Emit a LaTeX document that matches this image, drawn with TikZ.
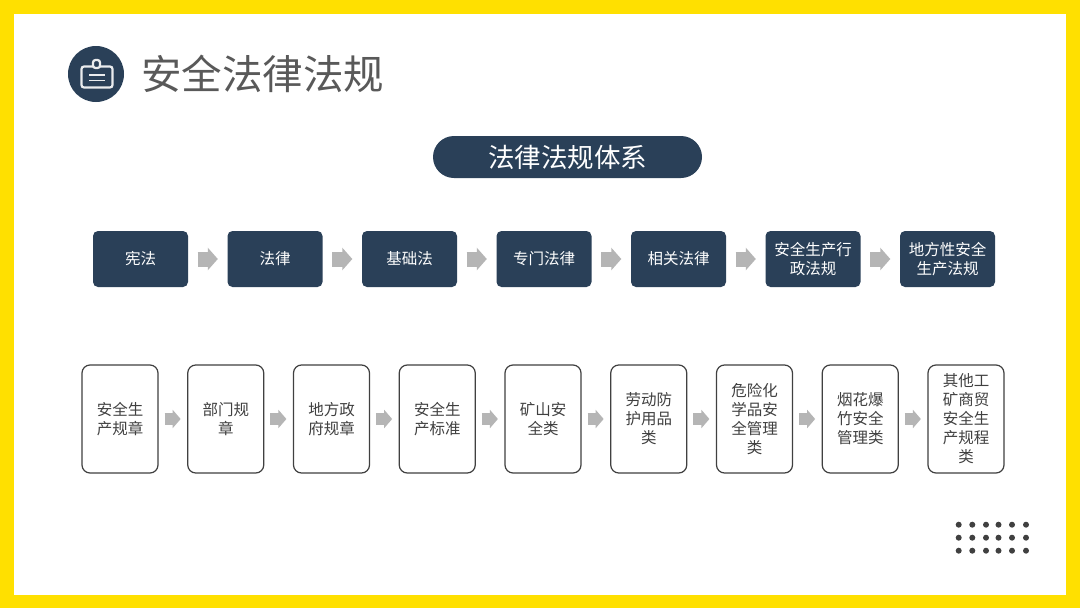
\documentclass[tikz,border=0pt]{standalone}
\usepackage{fontspec}
\setmainfont{Noto Sans CJK SC}
\usetikzlibrary{arrows.meta}
\definecolor{navy}{HTML}{2A4058}
\definecolor{frameyellow}{HTML}{FFE000}
\definecolor{titlegray}{HTML}{595959}
\definecolor{textgray}{HTML}{404040}
\definecolor{arrowgray}{HTML}{B5B5B5}
\tikzset{
  lawbox/.style={draw=none, fill=navy, rounded corners=5pt, minimum width=95pt, minimum height=56pt, inner sep=0pt, align=center, text=white, font=\fontsize{15.5}{19}\selectfont},
  rulebox/.style={draw=textgray, line width=1.2pt, fill=white, rounded corners=8pt, minimum width=76pt, minimum height=108pt, inner sep=0pt, align=center, text=textgray, font=\fontsize{15.5}{19}\selectfont},
  lawarrow/.style={draw=arrowgray, line width=15pt, -{Triangle[length=10pt,width=22pt,fill=arrowgray]}, shorten >=9.5pt, shorten <=9.5pt},
  rulearrow/.style={draw=arrowgray, line width=12.5pt, -{Triangle[length=8pt,width=18pt,fill=arrowgray]}, shorten >=6.5pt, shorten <=6pt},
}
\begin{document}
\begin{tikzpicture}[x=1pt, y=-1pt]
  \useasboundingbox (0,0) rectangle (1080,608);
  \fill[frameyellow] (0,0) rectangle (1080,608);
  \fill[white] (14,14) rectangle (1066,595);

  \node[circle, fill=navy, minimum size=56pt, inner sep=0pt] (badge) at (96,74) {};
  \draw[white!90!navy, line width=2.2pt, rounded corners=2.5pt] (93,66.5) -- (81.5,66.5) -- (81.5,87.5) -- (112.5,87.5) -- (112.5,66.5) -- (100,66.5);
  \draw[white!90!navy, line width=2.2pt, rounded corners=2.5pt] (93,68) -- (93,60) -- (100,60) -- (100,68) -- cycle;
  \draw[white!90!navy, line width=1.8pt] (89,75) -- (105,75);
  \draw[white!90!navy, line width=1.8pt] (89,80.5) -- (105,80.5);
  \node[anchor=west, inner sep=0pt, text=titlegray, font=\fontsize{40.5}{44}\selectfont] (heading) at (141,74) {安全法律法规};

  \node[fill=navy, rounded corners=21pt, minimum width=269pt, minimum height=42pt, inner sep=0pt, text=white, font=\fontsize{26.5}{30}\selectfont] (system) at (567.5,157) {法律法规体系};

  \foreach \i/\txt in {1/宪法, 2/法律, 3/基础法, 4/专门法律, 5/相关法律, 6/安全生产行\\政法规, 7/地方性安全\\生产法规}
    \node[lawbox] (law\i) at ({140.5+134.5*(\i-1)},259) {\txt};
  \foreach \i [evaluate=\i as \j using int(\i+1)] in {1,...,6}
    \draw[lawarrow] (law\i.east) -- (law\j.west);

  \foreach \i/\txt in {1/安全生\\产规章, 2/部门规\\章, 3/地方政\\府规章, 4/安全生\\产标准, 5/矿山安\\全类, 6/劳动防\\护用品\\类, 7/危险化\\学品安\\全管理\\类, 8/烟花爆\\竹安全\\管理类, 9/其他工\\矿商贸\\安全生\\产规程\\类}
    \node[rulebox] (rule\i) at ({120+105.75*(\i-1)},419) {\txt};
  \foreach \i [evaluate=\i as \j using int(\i+1)] in {1,...,8}
    \draw[rulearrow] (rule\i.east) -- (rule\j.west);

  \foreach \x in {958.7,972.3,986,998.5,1012,1026}
    \foreach \y in {524.7,537.7,550.7}
      \fill[textgray] (\x,\y) circle (3pt);
\end{tikzpicture}
\end{document}
